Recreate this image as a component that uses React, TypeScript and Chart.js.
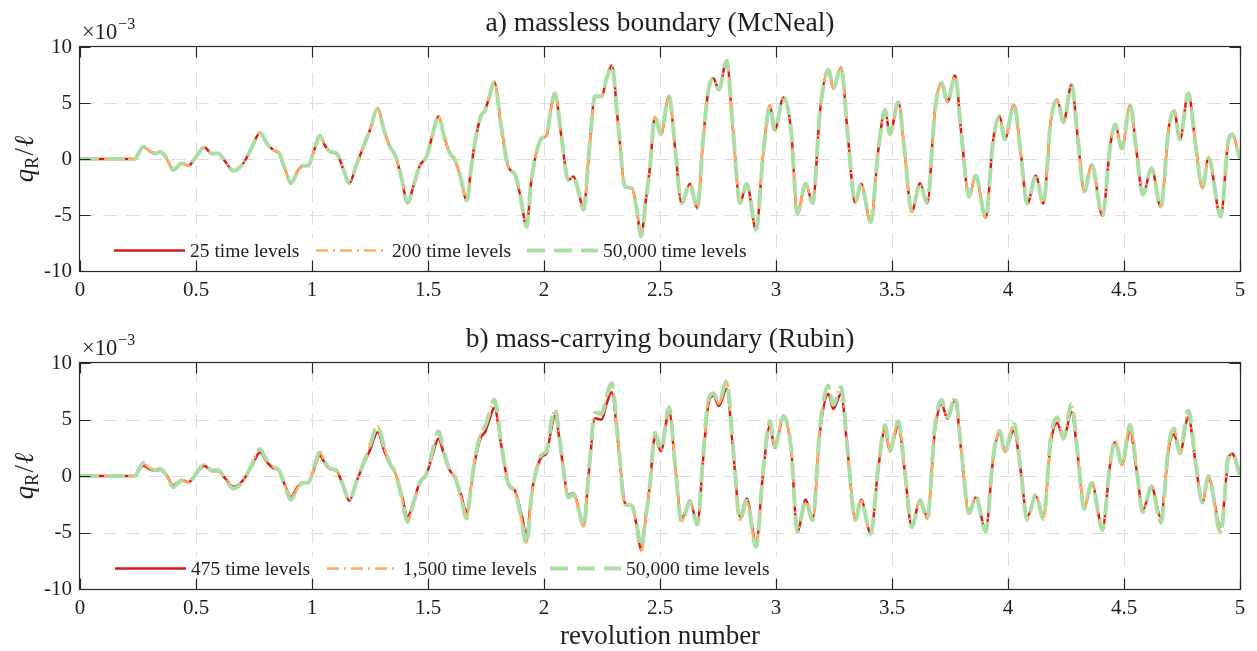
import React, { useEffect, useRef } from "react";
import { Chart, registerables } from "chart.js";

Chart.register(...registerables);

// ---------------- data (q_R / l, in units of 1e-3) ----------------
const revolutions = [
  0, 0.1, 0.2, 0.237, 0.255, 0.273, 0.3, 0.323, 0.347, 0.372,
  0.402, 0.438, 0.467, 0.5, 0.536, 0.567, 0.596, 0.625, 0.661, 0.704,
  0.74, 0.776, 0.805, 0.833, 0.858, 0.885, 0.909, 0.94, 0.963, 0.984,
  1.005, 1.034, 1.056, 1.078, 1.106, 1.135, 1.161, 1.19, 1.221, 1.25,
  1.283, 1.31, 1.336, 1.358, 1.385, 1.412, 1.44, 1.466, 1.494, 1.52,
  1.545, 1.57, 1.591, 1.616, 1.64, 1.667, 1.685, 1.703, 1.728, 1.746,
  1.765, 1.786, 1.815, 1.846, 1.875, 1.9, 1.925, 1.945, 1.961, 1.99,
  2.011, 2.03, 2.047, 2.075, 2.105, 2.127, 2.15, 2.17, 2.195, 2.22,
  2.249, 2.27, 2.292, 2.32, 2.349, 2.378, 2.4, 2.418, 2.44, 2.457,
  2.478, 2.504, 2.539, 2.565, 2.593, 2.629, 2.661, 2.685, 2.708, 2.73,
  2.754, 2.787, 2.815, 2.845, 2.874, 2.914, 2.945, 2.974, 2.994, 3.032,
  3.065, 3.092, 3.128, 3.158, 3.19, 3.226, 3.247, 3.28, 3.31, 3.341,
  3.367, 3.408, 3.441, 3.47, 3.491, 3.527, 3.555, 3.585, 3.621, 3.652,
  3.685, 3.714, 3.739, 3.772, 3.8, 3.832, 3.861, 3.904, 3.935, 3.964,
  3.986, 4.026, 4.055, 4.083, 4.12, 4.152, 4.185, 4.212, 4.239, 4.274,
  4.3, 4.329, 4.361, 4.407, 4.44, 4.462, 4.491, 4.526, 4.555, 4.581,
  4.619, 4.658, 4.694, 4.716, 4.741, 4.777, 4.81, 4.838, 4.864, 4.917,
  4.95, 4.966, 5,
];

// a) massless boundary (McNeal): 25, 200 and 50,000 time levels coincide
const mcneal25 = [
  0, 0, 0, 0, 0.6, 1.09, 0.7, 0.5, 0.65, 0.1,
  -0.98, -0.38, -0.6, 0.2, 1.04, 0.5, 0.5, -0.2, -1.06, -0.38,
  1.0, 2.34, 1.4, 0.8, 0.5, -1.0, -2.16, -1.0, -0.6, -0.6,
  0.5, 2.07, 1.2, 0.65, 0.5, -0.9, -2.16, -0.6, 1.09, 2.6,
  4.5, 2.6, 1.09, 0.35, -1.6, -3.93, -2.2, -0.53, 0.21, 2.2,
  3.82, 2.0, 0.65, -0.09, -1.6, -3.7, -1.0, 1.6, 3.82, 4.35,
  5.6, 6.86, 3.0, -0.68, -1.4, -3.5, -6.06, -2.0, 0.0, 1.85,
  2.1, 4.5, 5.88, 2.0, -1.87, -1.57, -3.0, -4.52, 0.8, 5.6,
  5.6, 7.2, 8.34, 3.0, -2.48, -2.6, -4.5, -6.89, -3.5, -0.68,
  3.75, 2.2, 5.6, 1.0, -3.93, -2.2, -4.4, 1.5, 6.04, 7.2,
  6.2, 8.78, 2.5, -3.93, -2.2, -6.3, 0.5, 4.79, 2.57, 5.5,
  2.57, -4.88, -2.2, -3.93, 4.35, 7.96, 6.3, 8.2, 2.0, -3.93,
  -2.2, -5.65, 0.8, 4.4, 2.2, 5.09, 0.5, -4.7, -2.16, -3.93,
  4.35, 6.77, 5.09, 7.45, 2.0, -3.34, -1.5, -5.27, 1.5, 3.85,
  1.75, 4.85, 0.5, -3.99, -1.5, -3.99, 3.46, 5.3, 3.3, 6.65,
  2.0, -2.9, -0.53, -5.06, 1.09, 3.1, 0.94, 4.79, 0.5, -3.2,
  -0.83, -4.28, 2.93, 4.29, 1.74, 5.88, 1.0, -2.6, 0.12, -5.18,
  1.7, 2.2, 0,
];
const mcneal200 = [
  0, 0, 0, 0, 0.6, 1.09, 0.7, 0.5, 0.65, 0.1,
  -0.98, -0.38, -0.6, 0.2, 1.04, 0.5, 0.5, -0.2, -1.06, -0.38,
  1.0, 2.34, 1.4, 0.8, 0.5, -1.0, -2.16, -1.0, -0.6, -0.6,
  0.5, 2.07, 1.2, 0.65, 0.5, -0.9, -2.16, -0.6, 1.09, 2.6,
  4.5, 2.6, 1.09, 0.35, -1.6, -3.93, -2.2, -0.53, 0.21, 2.2,
  3.82, 2.0, 0.65, -0.09, -1.6, -3.7, -1.0, 1.6, 3.82, 4.35,
  5.6, 6.86, 3.0, -0.68, -1.4, -3.5, -6.06, -2.0, 0.0, 1.85,
  2.1, 4.5, 5.88, 2.0, -1.87, -1.57, -3.0, -4.52, 0.8, 5.6,
  5.6, 7.2, 8.34, 3.0, -2.48, -2.6, -4.5, -6.89, -3.5, -0.68,
  3.75, 2.2, 5.6, 1.0, -3.93, -2.2, -4.4, 1.5, 6.04, 7.2,
  6.2, 8.78, 2.5, -3.93, -2.2, -6.3, 0.5, 4.79, 2.57, 5.5,
  2.57, -4.88, -2.2, -3.93, 4.35, 7.96, 6.3, 8.2, 2.0, -3.93,
  -2.2, -5.65, 0.8, 4.4, 2.2, 5.09, 0.5, -4.7, -2.16, -3.93,
  4.35, 6.77, 5.09, 7.45, 2.0, -3.34, -1.5, -5.27, 1.5, 3.85,
  1.75, 4.85, 0.5, -3.99, -1.5, -3.99, 3.46, 5.3, 3.3, 6.65,
  2.0, -2.9, -0.53, -5.06, 1.09, 3.1, 0.94, 4.79, 0.5, -3.2,
  -0.83, -4.28, 2.93, 4.29, 1.74, 5.88, 1.0, -2.6, 0.12, -5.18,
  1.7, 2.2, 0,
];
const mcneal50000 = [
  0, 0, 0, 0, 0.6, 1.09, 0.7, 0.5, 0.65, 0.1,
  -0.98, -0.38, -0.6, 0.2, 1.04, 0.5, 0.5, -0.2, -1.06, -0.38,
  1.0, 2.34, 1.4, 0.8, 0.5, -1.0, -2.16, -1.0, -0.6, -0.6,
  0.5, 2.07, 1.2, 0.65, 0.5, -0.9, -2.16, -0.6, 1.09, 2.6,
  4.5, 2.6, 1.09, 0.35, -1.6, -3.93, -2.2, -0.53, 0.21, 2.2,
  3.82, 2.0, 0.65, -0.09, -1.6, -3.7, -1.0, 1.6, 3.82, 4.35,
  5.6, 6.86, 3.0, -0.68, -1.4, -3.5, -6.06, -2.0, 0.0, 1.85,
  2.1, 4.5, 5.88, 2.0, -1.87, -1.57, -3.0, -4.52, 0.8, 5.6,
  5.6, 7.2, 8.34, 3.0, -2.48, -2.6, -4.5, -6.89, -3.5, -0.68,
  3.75, 2.2, 5.6, 1.0, -3.93, -2.2, -4.4, 1.5, 6.04, 7.2,
  6.2, 8.78, 2.5, -3.93, -2.2, -6.3, 0.5, 4.79, 2.57, 5.5,
  2.57, -4.88, -2.2, -3.93, 4.35, 7.96, 6.3, 8.2, 2.0, -3.93,
  -2.2, -5.65, 0.8, 4.4, 2.2, 5.09, 0.5, -4.7, -2.16, -3.93,
  4.35, 6.77, 5.09, 7.45, 2.0, -3.34, -1.5, -5.27, 1.5, 3.85,
  1.75, 4.85, 0.5, -3.99, -1.5, -3.99, 3.46, 5.3, 3.3, 6.65,
  2.0, -2.9, -0.53, -5.06, 1.09, 3.1, 0.94, 4.79, 0.5, -3.2,
  -0.83, -4.28, 2.93, 4.29, 1.74, 5.88, 1.0, -2.6, 0.12, -5.18,
  1.7, 2.2, 0,
];

// b) mass-carrying boundary (Rubin)
const rubin475 = [
  0, 0, 0, 0, 0.5, 0.94, 0.6, 0.45, 0.55, 0.1,
  -0.82, -0.35, -0.55, 0.15, 0.9, 0.45, 0.45, -0.2, -0.95, -0.35,
  0.85, 2.1, 1.25, 0.7, 0.45, -0.9, -1.85, -0.9, -0.55, -0.55,
  0.4, 1.82, 1.1, 0.6, 0.45, -0.9, -2.2, -0.6, 1.0, 2.3,
  3.88, 2.3, 1.0, 0.3, -1.5, -3.6, -2.1, -0.5, 0.2, 1.9,
  3.3, 1.8, 0.6, -0.1, -1.5, -3.2, -1.0, 1.4, 3.4, 3.9,
  5.0, 6.03, 2.8, -0.6, -1.3, -3.1, -5.18, -1.8, 0.0, 1.7,
  2.0, 4.0, 5.35, 1.9, -1.7, -1.5, -2.9, -4.44, 0.7, 5.1,
  5.0, 6.4, 7.41, 2.8, -2.4, -2.6, -4.5, -6.56, -3.5, -0.7,
  3.5, 2.2, 5.8, 1.0, -3.8, -2.2, -4.2, 1.3, 6.3, 7.1,
  6.2, 7.7, 2.3, -3.6, -2.0, -5.97, 0.4, 4.47, 2.5, 5.2,
  2.4, -4.94, -2.1, -3.7, 4.0, 7.26, 5.94, 7.26, 1.9, -3.7,
  -2.1, -5.09, 0.7, 4.1, 2.2, 4.47, 0.4, -4.5, -2.1, -3.6,
  4.0, 6.38, 5.06, 6.68, 1.9, -3.3, -1.9, -4.79, 1.3, 3.9,
  2.2, 4.03, 0.4, -3.6, -1.8, -3.6, 3.0, 4.7, 3.3, 5.65,
  1.9, -2.8, -0.6, -4.65, 1.0, 3.0, 1.0, 4.03, 0.4, -3.0,
  -1.0, -3.6, 2.6, 3.7, 2.0, 5.2, 0.9, -2.4, -0.2, -4.5,
  1.5, 1.97, 0.2,
];
const rubin1500 = [
  0, 0, 0, 0, 0.6, 1.1, 0.7, 0.5, 0.65, 0.1,
  -0.97, -0.4, -0.6, 0.2, 1.05, 0.5, 0.5, -0.2, -1.05, -0.4,
  1.0, 2.35, 1.4, 0.8, 0.5, -1.0, -2.1, -1.0, -0.6, -0.6,
  0.5, 2.1, 1.2, 0.65, 0.5, -0.9, -2.2, -0.6, 1.1, 2.7,
  4.4, 2.6, 1.1, 0.35, -1.7, -4.0, -2.2, -0.55, 0.2, 2.3,
  3.9, 2.0, 0.65, -0.1, -1.7, -3.7, -1.0, 1.6, 3.8, 4.4,
  5.6, 6.6, 3.0, -0.7, -1.4, -3.5, -5.9, -2.0, 0.0, 1.9,
  2.2, 4.5, 5.8, 2.0, -1.9, -1.6, -3.0, -4.5, 0.8, 5.6,
  5.6, 7.1, 8.1, 3.0, -2.5, -2.7, -4.6, -6.8, -3.5, -0.7,
  3.8, 2.3, 6.0, 1.0, -4.0, -2.3, -4.3, 1.5, 6.6, 7.3,
  6.4, 8.4, 2.5, -3.9, -2.2, -6.3, 0.5, 4.9, 2.6, 5.3,
  2.5, -4.9, -2.2, -3.9, 4.4, 7.9, 6.3, 7.8, 2.0, -3.9,
  -2.2, -5.1, 0.8, 4.5, 2.3, 4.8, 0.5, -4.6, -2.2, -3.8,
  4.4, 6.7, 5.2, 7.0, 2.0, -3.4, -1.8, -4.9, 1.5, 4.0,
  2.1, 4.6, 0.5, -3.9, -1.6, -3.8, 3.5, 5.2, 3.3, 6.3,
  2.0, -2.9, -0.6, -4.8, 1.1, 3.1, 0.95, 4.5, 0.5, -3.2,
  -0.9, -4.1, 2.9, 4.2, 2.0, 5.7, 1.0, -2.3, 0.0, -5.0,
  1.7, 2.0, 0,
];
const rubin50000 = [
  0, 0, 0, 0, 0.65, 1.15, 0.75, 0.5, 0.65, 0.05,
  -0.97, -0.4, -0.6, 0.2, 1.1, 0.5, 0.5, -0.2, -1.1, -0.4,
  1.0, 2.4, 1.4, 0.8, 0.5, -1.0, -2.1, -1.0, -0.6, -0.6,
  0.5, 2.1, 1.2, 0.65, 0.5, -0.9, -2.2, -0.6, 1.1, 2.7,
  4.47, 2.6, 1.1, 0.35, -1.7, -4.06, -2.2, -0.55, 0.2, 2.3,
  3.97, 2.0, 0.65, -0.1, -1.7, -3.76, -1.0, 1.6, 3.8, 4.4,
  5.6, 6.74, 3.0, -0.7, -1.4, -3.5, -6.03, -2.0, 0.0, 1.9,
  2.2, 4.6, 5.94, 2.0, -1.9, -1.6, -3.0, -4.5, 0.8, 5.6,
  5.5, 7.1, 8.2, 3.0, -2.5, -2.6, -4.4, -6.26, -3.4, -0.7,
  3.8, 2.3, 6.09, 1.0, -4.1, -2.3, -4.3, 1.5, 6.7, 7.3,
  6.5, 8.44, 2.5, -3.9, -2.2, -6.26, 0.5, 4.9, 2.6, 5.3,
  2.5, -4.9, -2.2, -3.9, 4.4, 8.0, 6.3, 7.85, 2.0, -3.9,
  -2.2, -5.1, 0.8, 4.5, 2.3, 4.85, 0.5, -4.5, -2.2, -3.8,
  4.4, 6.74, 5.2, 7.0, 2.0, -3.3, -1.8, -4.9, 1.5, 4.0,
  2.1, 4.62, 0.5, -3.9, -1.6, -3.8, 3.5, 5.2, 3.3, 6.38,
  2.0, -2.9, -0.6, -4.8, 1.1, 3.1, 0.95, 4.56, 0.5, -3.2,
  -0.9, -4.15, 2.9, 4.2, 2.0, 5.8, 1.0, -2.3, 0.0, -5.03,
  1.7, 2.0, 0,
];

const xTicks = [0, 0.5, 1, 1.5, 2, 2.5, 3, 3.5, 4, 4.5, 5];
const xTickLabels = ["0", "0.5", "1", "1.5", "2", "2.5", "3", "3.5", "4", "4.5", "5"];
const yTicks = [-10, -5, 0, 5, 10];
const yTickLabels = ["-10", "-5", "0", "5", "10"];

const titleA = "a) massless boundary (McNeal)";
const titleB = "b) mass-carrying boundary (Rubin)";
const namesA = ["25 time levels", "200 time levels", "50,000 time levels"];
const namesB = ["475 time levels", "1,500 time levels", "50,000 time levels"];
const xAxisTitle = "revolution number";

// ---------------- styles ----------------
const FONT = "'Liberation Serif', 'DejaVu Serif', serif";
const TEXT = "#1f1f1f";
const AXIS = "#262626";
const GRID = "#dedede";
const COLORS = ["#d7191c", "#fdae61", "#abdda4"];
const WIDTHS = [2.5, 2.5, 4];
const DASHES: number[][] = [[], [12, 5, 2, 5], [18, 9]];

type PanelCfg = {
  top: number;
  height: number;
  chartTop: number;
  chartBottom: number;
  title: string;
  names: string[];
  series: number[][];
  legendStarts: number[];
  legendBox: [number, number];
  xLabel: boolean;
};

const panels: PanelCfg[] = [
  {
    top: 0,
    height: 325,
    chartTop: 47,
    chartBottom: 271,
    title: titleA,
    names: namesA,
    series: [mcneal25, mcneal200, mcneal50000],
    legendStarts: [114, 316, 527],
    legendBox: [105, 757],
    xLabel: false,
  },
  {
    top: 325,
    height: 326,
    chartTop: 38,
    chartBottom: 264,
    title: titleB,
    names: namesB,
    series: [rubin475, rubin1500, rubin50000],
    legendStarts: [115, 327, 550],
    legendBox: [105, 782],
    xLabel: true,
  },
];

function makeDecor(p: PanelCfg) {
  return {
    id: "decor",
    beforeDatasetsDraw(chart: any) {
      const { ctx, chartArea: a, scales } = chart;
      ctx.save();
      ctx.strokeStyle = GRID;
      ctx.lineWidth = 1;
      ctx.setLineDash([14, 9]);
      xTicks.forEach((v) => {
        if (v === xTicks[0] || v === xTicks[xTicks.length - 1]) return;
        const px = Math.round(scales.x.getPixelForValue(v)) + 0.5;
        ctx.beginPath();
        ctx.moveTo(px, a.bottom);
        ctx.lineTo(px, a.top);
        ctx.stroke();
      });
      yTicks.forEach((v) => {
        if (v === yTicks[0] || v === yTicks[yTicks.length - 1]) return;
        const py = Math.round(scales.y.getPixelForValue(v)) + 0.5;
        ctx.beginPath();
        ctx.moveTo(a.left, py);
        ctx.lineTo(a.right, py);
        ctx.stroke();
      });
      ctx.restore();
    },
    afterDatasetsDraw(chart: any) {
      const { ctx, chartArea: a, scales } = chart;
      ctx.save();
      // legend
      const ly = a.bottom - 20.5;
      ctx.fillStyle = "#ffffff";
      ctx.fillRect(p.legendBox[0], ly - 12, p.legendBox[1] - p.legendBox[0], 25);
      ctx.font = `19.5px ${FONT}`;
      ctx.textBaseline = "middle";
      ctx.textAlign = "left";
      p.names.forEach((name, i) => {
        const sx = p.legendStarts[i];
        ctx.strokeStyle = COLORS[i];
        ctx.lineWidth = WIDTHS[i];
        ctx.setLineDash(DASHES[i]);
        ctx.lineCap = "butt";
        ctx.beginPath();
        ctx.moveTo(sx, ly);
        ctx.lineTo(sx + 71, ly);
        ctx.stroke();
        ctx.setLineDash([]);
        ctx.fillStyle = TEXT;
        ctx.fillText(name, sx + 76, ly + 1);
      });
      // box
      ctx.setLineDash([]);
      ctx.strokeStyle = AXIS;
      ctx.lineWidth = 1.2;
      const L = Math.round(a.left) - 0.5;
      const R = Math.round(a.right) + 0.5;
      const T = Math.round(a.top) - 0.5;
      const B = Math.round(a.bottom) + 0.5;
      ctx.strokeRect(L, T, R - L, B - T);
      const tl = 11;
      ctx.beginPath();
      xTicks.forEach((v) => {
        const px = Math.round(scales.x.getPixelForValue(v)) + 0.5;
        ctx.moveTo(px, B);
        ctx.lineTo(px, B - tl);
        ctx.moveTo(px, T);
        ctx.lineTo(px, T + tl);
      });
      yTicks.forEach((v) => {
        const py = Math.round(scales.y.getPixelForValue(v)) + 0.5;
        ctx.moveTo(L, py);
        ctx.lineTo(L + tl, py);
        ctx.moveTo(R, py);
        ctx.lineTo(R - tl, py);
      });
      ctx.stroke();

      // title
      const cx = (a.left + a.right) / 2;
      ctx.fillStyle = TEXT;
      ctx.textAlign = "center";
      ctx.textBaseline = "alphabetic";
      ctx.font = `27.5px ${FONT}`;
      ctx.fillText(p.title, cx, a.top - 16);

      // exponent
      ctx.textAlign = "left";
      ctx.font = `22.5px ${FONT}`;
      const ex = a.left + 2;
      ctx.fillText("\u00d710", ex, a.top - 8);
      const w10 = ctx.measureText("\u00d710").width;
      ctx.font = `16px ${FONT}`;
      ctx.fillText("\u22123", ex + w10 + 1, a.top - 18);

      // y label  q_R / l
      ctx.save();
      ctx.translate(26, (a.top + a.bottom) / 2);
      ctx.rotate(-Math.PI / 2);
      const fq = `italic 27px ${FONT}`;
      const fR = `18px ${FONT}`;
      const fs = `27px ${FONT}`;
      ctx.font = fq;
      const wq = ctx.measureText("q").width;
      ctx.font = fR;
      const wR = ctx.measureText("R").width;
      ctx.font = fs;
      const wsl = ctx.measureText("/").width;
      ctx.font = fq;
      const wl = ctx.measureText("\u2113").width;
      let xx = -(wq + wR + wsl + wl + 2) / 2;
      const base = 7;
      ctx.textAlign = "left";
      ctx.font = fq;
      ctx.fillText("q", xx, base);
      xx += wq;
      ctx.font = fR;
      ctx.fillText("R", xx, base + 5);
      xx += wR + 1;
      ctx.font = fs;
      ctx.fillText("/", xx, base);
      xx += wsl + 1;
      ctx.font = fq;
      ctx.fillText("\u2113", xx, base);
      ctx.restore();

      if (p.xLabel) {
        ctx.font = `27px ${FONT}`;
        ctx.textAlign = "center";
        ctx.fillText(xAxisTitle, cx, a.bottom + 55);
      }
      ctx.restore();
    },
  };
}

function Panel({ p }: { p: PanelCfg }) {
  const ref = useRef<HTMLCanvasElement>(null);
  useEffect(() => {
    const canvas = ref.current;
    if (!canvas) return;
    const datasets = p.names.map((name, i) => ({
      label: name,
      data: revolutions.map((x, k) => ({ x, y: p.series[i][k] })),
      borderColor: COLORS[i],
      backgroundColor: COLORS[i],
      borderWidth: WIDTHS[i],
      borderDash: DASHES[i],
      borderCapStyle: "butt",
      borderJoinStyle: "round",
      pointRadius: 0,
      pointHoverRadius: 0,
      fill: false,
      tension: 0.3,
      cubicInterpolationMode: "monotone",
      order: 3 - i,
    }));
    const tickFont = { family: FONT, size: 21 };
    const chart = new Chart(canvas, {
      type: "line",
      data: { datasets } as any,
      options: {
        animation: false,
        responsive: false,
        maintainAspectRatio: false,
        events: [],
        layout: { padding: { top: p.chartTop, right: 17, left: 0, bottom: 0 } },
        plugins: {
          legend: { display: false },
          tooltip: { enabled: false },
          title: { display: false },
        },
        scales: {
          x: {
            type: "linear",
            min: 0,
            max: 5,
            afterBuildTicks: (s: any) => {
              s.ticks = xTicks.map((v) => ({ value: v }));
            },
            ticks: {
              autoSkip: false,
              maxRotation: 0,
              minRotation: 0,
              padding: 7,
              color: TEXT,
              font: tickFont,
              callback: (v: any) => xTickLabels[xTicks.indexOf(Number(v))],
            },
            grid: { display: false, drawTicks: false },
            border: { display: false },
            afterFit: (s: any) => {
              s.height = p.height - p.chartBottom;
            },
          },
          y: {
            type: "linear",
            min: -10,
            max: 10,
            afterBuildTicks: (s: any) => {
              s.ticks = yTicks.map((v) => ({ value: v }));
            },
            ticks: {
              padding: 8,
              color: TEXT,
              font: tickFont,
              callback: (v: any) => yTickLabels[yTicks.indexOf(Number(v))],
            },
            grid: { display: false, drawTicks: false },
            border: { display: false },
            afterFit: (s: any) => {
              s.width = 80;
            },
          },
        },
      } as any,
      plugins: [makeDecor(p)],
    });
    return () => chart.destroy();
  }, [p]);
  return (
    <canvas
      ref={ref}
      width={1257}
      height={p.height}
      style={{ position: "absolute", left: 0, top: p.top, width: 1257, height: p.height }}
    />
  );
}

export default function App() {
  return (
    <div style={{ position: "absolute", left: 0, top: 0, width: 1257, height: 651, background: "#ffffff" }}>
      {panels.map((p, i) => (
        <Panel key={i} p={p} />
      ))}
    </div>
  );
}
